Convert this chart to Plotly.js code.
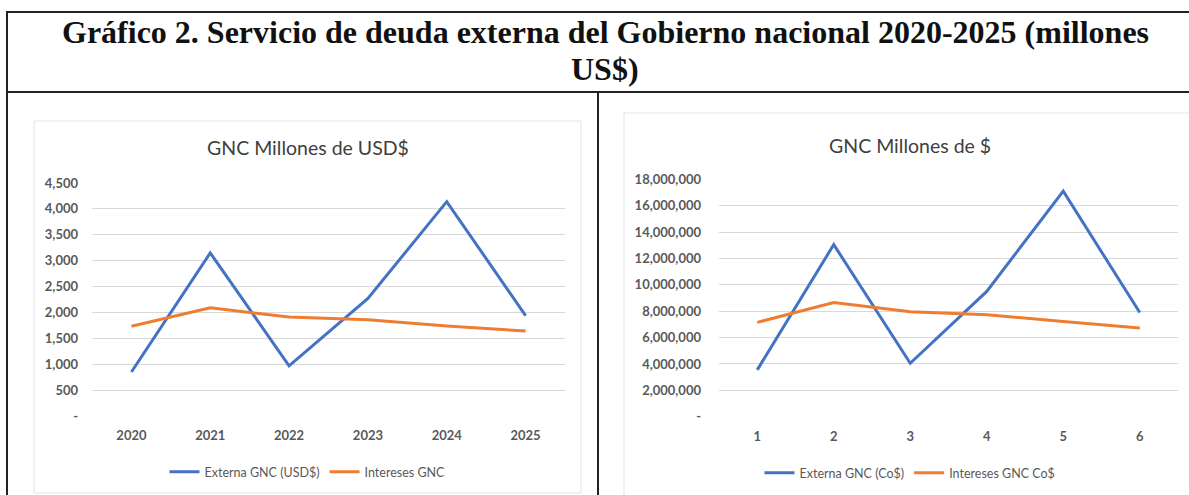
<!DOCTYPE html>
<html>
<head>
<meta charset="utf-8">
<script src="https://cdn.plot.ly/plotly-3.0.1.min.js"></script>
<style>html,body{margin:0;padding:0;background:#fff;}#chart{width:1189px;height:495px;}</style>
</head>
<body>
<div id="chart"></div>
<script>
// ---- data ----
const yearsUSD = ['2020', '2021', '2022', '2023', '2024', '2025'];
const externaUSD = [850, 3150, 970, 2270, 4140, 1940];
const interesesUSD = [1735, 2090, 1910, 1860, 1740, 1640];
const periodsCOP = ['1', '2', '3', '4', '5', '6'];
const externaCOP = [3550000, 13050000, 4050000, 9500000, 17100000, 7900000];
const interesesCOP = [7150000, 8650000, 7950000, 7730000, 7220000, 6720000];
const tickValsUSD = [0, 500, 1000, 1500, 2000, 2500, 3000, 3500, 4000, 4500];
const tickTextUSD = ['-', '500', '1,000', '1,500', '2,000', '2,500', '3,000', '3,500', '4,000', '4,500'];
const tickValsCOP = [0, 2000000, 4000000, 6000000, 8000000, 10000000, 12000000, 14000000, 16000000, 18000000];
const tickTextCOP = ['-', '2,000,000', '4,000,000', '6,000,000', '8,000,000', '10,000,000', '12,000,000', '14,000,000', '16,000,000', '18,000,000'];
const seriesNames = ['Externa GNC (USD$)', 'Intereses GNC', 'Externa GNC (Co$)', 'Intereses GNC Co$'];
const mainTitleLine1 = 'Gráfico 2. Servicio de deuda externa del Gobierno nacional 2020-2025 (millones';
const mainTitleLine2 = 'US$)';
const leftTitle = 'GNC Millones de USD$';
const rightTitle = 'GNC Millones de $';

// ---- layout helpers ----
const W = 1189, H = 495;
const px = x => x / W;
const py = y => 1 - y / H;
const BLUE = '#4472C4', ORANGE = '#ED7D31';
const FONT = 'Lato, "Open Sans", sans-serif';
const tickFont = {family: FONT, size: 13, color: '#595959', weight: 700};
const titleFont = {family: '"Liberation Serif", "Times New Roman", serif', size: 32, color: '#111', weight: 700};

const traces = [
  {x: yearsUSD, y: externaUSD, name: seriesNames[0], type: 'scatter', mode: 'lines',
   line: {color: BLUE, width: 3}, xaxis: 'x', yaxis: 'y', legend: 'legend'},
  {x: yearsUSD, y: interesesUSD, name: seriesNames[1], type: 'scatter', mode: 'lines',
   line: {color: ORANGE, width: 3}, xaxis: 'x', yaxis: 'y', legend: 'legend'},
  {x: periodsCOP, y: externaCOP, name: seriesNames[2], type: 'scatter', mode: 'lines',
   line: {color: BLUE, width: 3}, xaxis: 'x2', yaxis: 'y2', legend: 'legend2'},
  {x: periodsCOP, y: interesesCOP, name: seriesNames[3], type: 'scatter', mode: 'lines',
   line: {color: ORANGE, width: 3}, xaxis: 'x2', yaxis: 'y2', legend: 'legend2'}
];

const xCommon = {type: 'category', showgrid: false, zeroline: false, showline: false,
  ticks: '', tickfont: tickFont, fixedrange: true, ticklabelstandoff: 10, range: [-0.5, 5.5]};
const yCommon = {showgrid: true, gridcolor: '#D9D9D9', gridwidth: 1, zeroline: false,
  showline: false, ticks: '', tickfont: tickFont, tickmode: 'array', fixedrange: true};

const shapes = [
  // chart area boxes
  {type: 'rect', xref: 'paper', yref: 'paper', x0: px(34), x1: px(581), y0: py(493), y1: py(121),
   line: {color: '#E4E4E4', width: 1}, layer: 'below'},
  {type: 'rect', xref: 'paper', yref: 'paper', x0: px(624), x1: px(1200), y0: py(500), y1: py(113),
   line: {color: '#E4E4E4', width: 1}, layer: 'below'},
  // table borders
  {type: 'line', xref: 'paper', yref: 'paper', x0: px(6), x1: px(1195), y0: py(12), y1: py(12),
   line: {color: '#222', width: 2}},
  {type: 'line', xref: 'paper', yref: 'paper', x0: px(6), x1: px(1195), y0: py(92), y1: py(92),
   line: {color: '#222', width: 2}},
  {type: 'line', xref: 'paper', yref: 'paper', x0: px(7), x1: px(7), y0: py(11), y1: py(500),
   line: {color: '#222', width: 2}},
  {type: 'line', xref: 'paper', yref: 'paper', x0: px(598), x1: px(598), y0: py(92), y1: py(500),
   line: {color: '#222', width: 2}}
];

const annotations = [
  {text: mainTitleLine1, xref: 'paper', yref: 'paper', x: px(605), y: py(32), xanchor: 'center', yanchor: 'middle',
   showarrow: false, font: titleFont},
  {text: mainTitleLine2, xref: 'paper', yref: 'paper', x: px(605), y: py(69), xanchor: 'center', yanchor: 'middle',
   showarrow: false, font: titleFont},
  {text: leftTitle, xref: 'paper', yref: 'paper', x: px(307.5), y: py(148), xanchor: 'center', yanchor: 'middle',
   showarrow: false, font: {family: FONT, size: 19.5, color: '#404040'}},
  {text: rightTitle, xref: 'paper', yref: 'paper', x: px(910), y: py(145), xanchor: 'center', yanchor: 'middle',
   showarrow: false, font: {family: FONT, size: 19.5, color: '#404040'}}
];

const legendCommon = {orientation: 'h', xanchor: 'center', yanchor: 'middle', bgcolor: 'rgba(0,0,0,0)',
  font: {family: FONT, size: 12.5, color: '#595959'}, itemwidth: 30, tracegroupgap: 0};

const layout = {
  width: W, height: H,
  margin: {l: 0, r: 0, t: 0, b: 0, pad: 0},
  paper_bgcolor: '#fff', plot_bgcolor: 'rgba(0,0,0,0)',
  showlegend: true,
  xaxis: Object.assign({}, xCommon, {domain: [px(92), px(565)], anchor: 'y'}),
  yaxis: Object.assign({}, yCommon, {domain: [py(416), py(183)], range: [0, 4500], anchor: 'x',
    tickvals: tickValsUSD, ticktext: tickTextUSD, ticklabelstandoff: 13}),
  xaxis2: Object.assign({}, xCommon, {domain: [px(719), px(1178)], anchor: 'y2'}),
  yaxis2: Object.assign({}, yCommon, {domain: [py(416.7), py(179.3)], range: [0, 18000000], anchor: 'x2',
    tickvals: tickValsCOP, ticktext: tickTextCOP, ticklabelstandoff: 17}),
  legend: Object.assign({}, legendCommon, {x: px(307.5), y: py(472)}),
  legend2: Object.assign({}, legendCommon, {x: px(910), y: py(473)}),
  shapes: shapes,
  annotations: annotations
};

Plotly.newPlot('chart', traces, layout, {displayModeBar: false, staticPlot: true});
</script>
</body>
</html>
